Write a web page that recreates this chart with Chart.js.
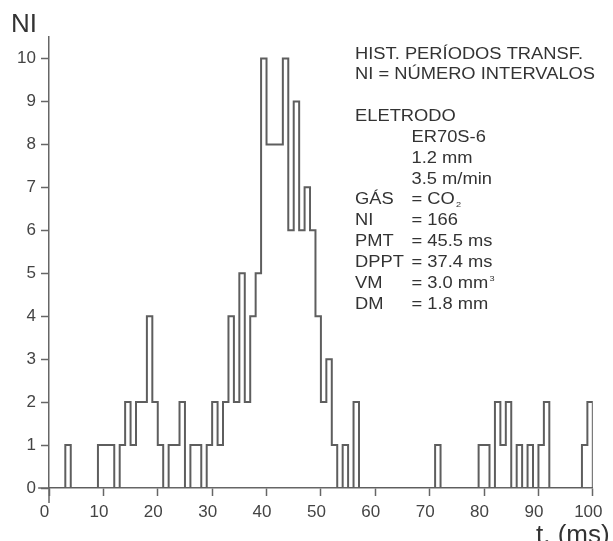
<!DOCTYPE html>
<html><head><meta charset="utf-8">
<script src="https://cdn.jsdelivr.net/npm/chart.js@4.4.0/dist/chart.umd.min.js"></script>
<style>html,body{margin:0;padding:0;background:#fff;}</style>
</head><body>
<canvas id="c" width="613" height="541"></canvas>
<script>
// Histogram counts, 1 ms bins starting at 0 ms (bin i covers i..i+1 ms)
const binWidth = 1;
const counts = [
  0,0,0,1,0,0,0,0,0,1,
  1,1,0,1,2,1,2,2,4,2,
  1,0,1,1,2,0,1,1,0,1,
  2,1,2,4,2,5,2,4,5,10,
  8,8,8,10,6,9,6,7,6,4,
  2,3,1,0,1,0,2,0,0,0,
  0,0,0,0,0,0,0,0,0,0,
  0,1,0,0,0,0,0,0,0,1,
  1,0,2,1,2,0,1,0,1,0,
  1,2,0,0,0,0,0,0,1,2
];
const xTicks = [0,10,20,30,40,50,60,70,80,90,100];
const yTicks = [0,1,2,3,4,5,6,7,8,9,10];
const yTitle = "NI";
const xTitle = "t. (ms)";
const noteRows = [
  ["HIST. PERÍODOS TRANSF.", ""],
  ["NI = NÚMERO INTERVALOS", ""],
  ["", ""],
  ["ELETRODO", ""],
  ["", "ER70S-6"],
  ["", "1.2 mm"],
  ["", "3.5 m/min"],
  ["GÁS", "= CO", "2", "sub"],
  ["NI", "= 166"],
  ["PMT", "= 45.5 ms"],
  ["DPPT", "= 37.4 ms"],
  ["VM", "= 3.0 mm", "3", "sup"],
  ["DM", "= 1.8 mm"]
];

const points = counts.map((v, i) => ({x: i * binWidth, y: v}));
points.push({x: counts.length * binWidth, y: 0});

const FONT = '"Liberation Sans", Arial, sans-serif';
const AXIS = '#666';

const decor = {
  id: 'decor',
  beforeDatasetsDraw(chart) {
    const ctx = chart.ctx, xs = chart.scales.x, ys = chart.scales.y;
    ctx.save();
    ctx.strokeStyle = AXIS; ctx.lineWidth = 1.5;
    ctx.beginPath();
    const x0 = xs.getPixelForValue(0), y0 = ys.getPixelForValue(0);
    ctx.moveTo(x0, y0); ctx.lineTo(x0, ys.getPixelForValue(-0.35));
    ctx.moveTo(xs.getPixelForValue(-2), y0); ctx.lineTo(x0, y0);
    ctx.stroke();
    ctx.restore();
  },
  afterDraw(chart) {
    const ctx = chart.ctx;
    ctx.save();
    ctx.fillStyle = '#333';
    ctx.textBaseline = 'alphabetic';
    ctx.font = '26px ' + FONT;
    ctx.fillText(yTitle, 11, 32);
    ctx.fillText(xTitle, 536, 543);
    const sx = 1.145;
    noteRows.forEach((r, i) => {
      const y = 58.5 + i * 20.85;
      ctx.font = '16px ' + FONT;
      if (r[0]) { ctx.save(); ctx.translate(355, y); ctx.scale(sx, 1); ctx.fillText(r[0], 0, 0); ctx.restore(); }
      if (r[1]) {
        ctx.save(); ctx.translate(411.5, y); ctx.scale(sx, 1);
        ctx.fillText(r[1], 0, 0);
        if (r[2]) {
          const w = ctx.measureText(r[1]).width;
          ctx.font = '8px ' + FONT;
          ctx.fillText(r[2], w + 1, r[3] === 'sub' ? 3 : -7);
        }
        ctx.restore();
      }
    });
    ctx.restore();
  }
};

new Chart(document.getElementById('c'), {
  type: 'line',
  data: { datasets: [{
    data: points, stepped: true, borderColor: '#5e5e5e', borderWidth: 2,
    pointRadius: 0, fill: false, tension: 0
  }]},
  options: {
    responsive: false, animation: false,
    layout: { padding: { top: 37, right: 19, left: 0, bottom: 0 } },
    plugins: { legend: { display: false }, tooltip: { enabled: false } },
    scales: {
      x: {
        type: 'linear', min: 0, max: 100,
        afterFit(s) { s.height = 53; },
        afterBuildTicks(s) { s.ticks = xTicks.map(v => ({value: v})); },
        grid: { drawOnChartArea: false, drawTicks: true, tickLength: 8, tickWidth: 1.5, tickColor: AXIS },
        border: { display: true, color: AXIS, width: 1.5 },
        ticks: { color: '#444', font: { family: FONT, size: 17 }, padding: 6, labelOffset: -4.5, maxRotation: 0, autoSkip: false }
      },
      y: {
        min: 0, max: 10.5,
        afterFit(s) { s.width = 49; },
        afterBuildTicks(s) { s.ticks = yTicks.map(v => ({value: v})); },
        grid: { drawOnChartArea: false, drawTicks: true, tickLength: 8, tickWidth: 1.5, tickColor: AXIS },
        border: { display: true, color: AXIS, width: 1.5 },
        ticks: { color: '#444', font: { family: FONT, size: 17 }, padding: 5, autoSkip: false }
      }
    }
  },
  plugins: [decor]
});
</script>
</body></html>
